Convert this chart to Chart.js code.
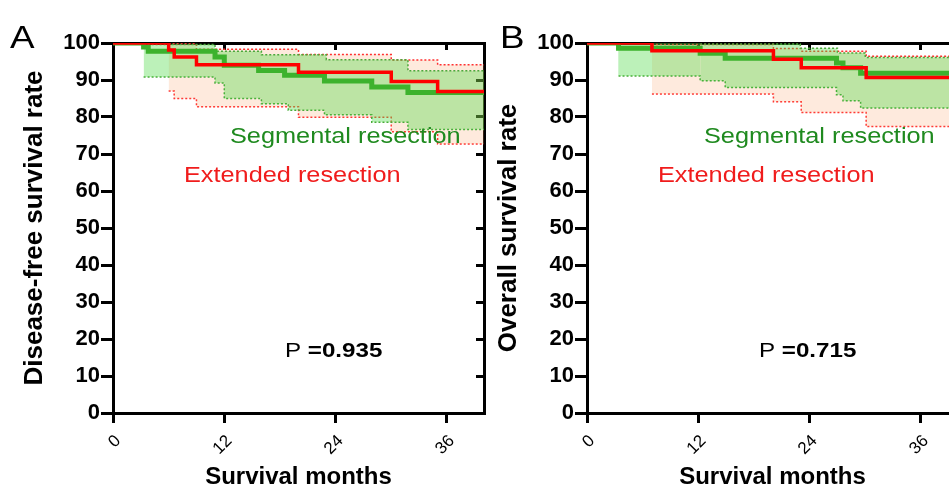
<!DOCTYPE html>
<html>
<head>
<meta charset="utf-8">
<script src="https://cdn.jsdelivr.net/npm/chart.js@4.4.1/dist/chart.umd.min.js"></script>
<style>
  body { margin: 0; width: 949px; height: 486px; overflow: hidden; background: #fff; position: relative; }
  canvas { position: absolute; top: 0; }
  #dfs { left: 0; }
  #os { left: 474px; }
</style>
</head>
<body>
<canvas id="dfs" width="490" height="486"></canvas>
<canvas id="os" width="490" height="486"></canvas>
<script>
// axis ticks
const monthTicks = [0, 12, 24, 36];
const rateMin = 0;
const rateMax = 100;
const monthMax = 40;

// A: disease-free survival
const dfsSegMonths = [0, 3.3, 3.8, 11.0, 12.0, 15.7, 18.5, 22.8, 27.9, 31.8, 40];
const dfsSegRate   = [100, 98.9, 97.8, 96.2, 94.0, 92.6, 91.3, 89.7, 88.1, 86.6, 86.6];
const dfsSegHiMonths = [0, 3.3, 11.0, 16.0, 23.0, 31.8, 40];
const dfsSegHi       = [100, 99.6, 97.8, 96.8, 95.5, 92.5, 92.5];
const dfsSegLoMonths = [0, 3.3, 11.0, 12.0, 16.0, 18.9, 22.8, 27.9, 31.8, 40];
const dfsSegLo       = [100, 90.8, 89.2, 85.0, 83.6, 81.8, 80.6, 78.6, 76.6, 76.6];

const dfsExtMonths = [0, 6.0, 6.6, 9.0, 20.0, 30.0, 35.0, 40];
const dfsExtRate   = [100, 98.1, 96.2, 94.1, 92.1, 89.6, 86.9, 86.9];
const dfsExtHiMonths = [0, 6.0, 9.0, 20.0, 30.0, 35.0, 40];
const dfsExtHi       = [100, 99.8, 98.3, 96.9, 95.4, 94.1, 94.1];
const dfsExtLoMonths = [0, 6.0, 6.6, 9.0, 20.0, 30.0, 35.0, 40];
const dfsExtLo       = [100, 87.0, 85.0, 82.8, 79.9, 76.0, 72.7, 72.7];

// B: overall survival
const osSegMonths = [0, 3.4, 12.2, 14.9, 26.9, 27.6, 29.5, 40];
const osSegRate   = [100, 98.6, 97.2, 95.9, 94.6, 93.3, 91.8, 91.8];
const osSegHiMonths = [0, 12.2, 23.0, 27.0, 30.0, 40];
const osSegHi       = [100, 99.7, 98.6, 97.3, 96.1, 96.1];
const osSegLoMonths = [0, 3.4, 12.2, 14.9, 26.9, 27.6, 29.5, 40];
const osSegLo       = [100, 91.1, 89.8, 88.0, 86.0, 84.4, 82.4, 82.4];

const osExtMonths = [0, 7.0, 20.1, 23.1, 30.1, 40];
const osExtRate   = [100, 97.9, 95.6, 93.3, 90.7, 90.7];
const osExtHiMonths = [0, 7.0, 20.1, 23.1, 30.1, 40];
const osExtHi       = [100, 99.6, 98.5, 97.8, 96.4, 96.4];
const osExtLoMonths = [0, 7.0, 20.1, 23.1, 30.1, 40];
const osExtLo       = [100, 86.2, 84.1, 81.2, 77.4, 77.4];

const groupNames = ["Segmental resection", "Extended resection"];

const FONT = "'Liberation Sans', Arial, sans-serif";

function pts(xs, ys) {
  return xs.map((x, i) => ({ x: x, y: ys[i] }));
}

// hide the first (vertical drop) piece of a CI bound
const hideFirst = {
  borderColor: c => c.p0DataIndex === 0 ? "rgba(0,0,0,0)" : undefined
};

const panelText = {
  id: "panelText",
  afterDraw(chart, args, opts) {
    const ctx = chart.ctx;
    const sx = 1.15;
    function put(text, x, y, font, color) {
      ctx.save();
      ctx.translate(x, y);
      ctx.scale(sx, 1);
      ctx.font = font;
      ctx.fillStyle = color;
      ctx.textBaseline = "alphabetic";
      ctx.fillText(text, 0, 0);
      const w = ctx.measureText(text).width * sx;
      ctx.restore();
      return w;
    }
    put(opts.letter, opts.letterX, 48, "32px " + FONT, "#000");
    put(groupNames[0], 230, 143, "22px " + FONT, "#1f8a1f");
    put(groupNames[1], 184, 182, "22px " + FONT, "#f01c1c");
    const w = put("P ", 285, 357, "21px " + FONT, "#000");
    put("=" + opts.p, 285 + w, 357, "bold 21px " + FONT, "#000");
  }
};

function makePanel(id, d, yTitle, letter, letterX, p) {
  const ctx = document.getElementById(id).getContext("2d");
  return new Chart(ctx, {
    type: "line",
    data: {
      datasets: [
        {
          label: groupNames[1],
          data: pts(d.extT, d.extV),
          borderColor: "#ff0000",
          borderWidth: 3.5,
          stepped: true,
          pointRadius: 0,
          fill: false,
          order: 0
        },
        {
          label: groupNames[0],
          data: pts(d.segT, d.segV),
          borderColor: "#3db22d",
          borderWidth: 5,
          stepped: true,
          pointRadius: 0,
          fill: false,
          order: 1
        },
        {
          data: pts(d.segHiT, d.segHi),
          borderColor: "#4aa83a",
          borderWidth: 1.5,
          borderDash: [2, 2],
          stepped: true,
          pointRadius: 0,
          fill: "+1",
          backgroundColor: "rgba(70,215,60,0.36)",
          segment: hideFirst,
          order: 2
        },
        {
          data: pts(d.segLoT, d.segLo),
          borderColor: "#4aa83a",
          borderWidth: 1.5,
          borderDash: [2, 2],
          stepped: true,
          pointRadius: 0,
          fill: false,
          segment: hideFirst,
          order: 2
        },
        {
          data: pts(d.extHiT, d.extHi),
          borderColor: "#ff3030",
          borderWidth: 1.5,
          borderDash: [2, 2],
          stepped: true,
          pointRadius: 0,
          fill: "+1",
          backgroundColor: "rgba(250,160,100,0.22)",
          segment: hideFirst,
          order: 3
        },
        {
          data: pts(d.extLoT, d.extLo),
          borderColor: "#ff3030",
          borderWidth: 1.5,
          borderDash: [2, 2],
          stepped: true,
          pointRadius: 0,
          fill: false,
          segment: hideFirst,
          order: 3
        }
      ]
    },
    options: {
      responsive: false,
      devicePixelRatio: 1,
      animation: false,
      layout: { padding: { top: 43, right: 6, bottom: 0, left: 0 } },
      plugins: {
        legend: { display: false },
        tooltip: { enabled: false },
        panelText: { letter: letter, letterX: letterX, p: p }
      },
      scales: {
        x: {
          type: "linear",
          position: "bottom",
          min: 0,
          max: monthMax,
          afterBuildTicks: s => { s.ticks = monthTicks.map(v => ({ value: v })); },
          afterFit: s => { s.height = 73; },
          border: { color: "#000", width: 3 },
          grid: { drawOnChartArea: false, color: "#000", lineWidth: 3, tickLength: 10 },
          ticks: {
            autoSkip: false,
            minRotation: 45,
            maxRotation: 45,
            labelOffset: 5,
            padding: 8,
            color: "#000",
            font: { family: FONT, size: 17 }
          },
          title: {
            display: true,
            text: "Survival months",
            color: "#000",
            font: { family: FONT, size: 24, weight: "bold", lineHeight: 1 },
            padding: { top: 0, bottom: -3 }
          }
        },
        x2: {
          type: "linear",
          position: "top",
          min: 0,
          max: monthMax,
          afterBuildTicks: s => { s.ticks = monthTicks.slice(1).map(v => ({ value: v })); },
          afterFit: s => { s.height = 0; },
          border: { color: "#000", width: 3 },
          grid: { drawOnChartArea: false, color: "#000", lineWidth: 3, tickLength: -7 },
          ticks: { display: false }
        },
        y: {
          type: "linear",
          position: "left",
          min: rateMin,
          max: rateMax,
          afterFit: s => { s.width = 113; },
          border: { color: "#000", width: 3 },
          grid: { drawOnChartArea: false, color: "#000", lineWidth: 3, tickLength: 12 },
          ticks: {
            stepSize: 10,
            autoSkip: false,
            padding: 1,
            color: "#000",
            font: { family: FONT, size: 22, weight: "bold" }
          },
          title: {
            display: true,
            text: yTitle,
            color: "#000",
            font: { family: FONT, size: 26, weight: "bold", lineHeight: 1 },
            padding: { top: 22, bottom: 0 }
          }
        },
        y2: {
          type: "linear",
          position: "right",
          min: rateMin,
          max: rateMax,
          afterFit: s => { s.width = 0; },
          border: { color: "#000", width: 3 },
          grid: { drawOnChartArea: false, color: "#000", lineWidth: 3, tickLength: -8 },
          ticks: { display: false, stepSize: 10 }
        }
      }
    },
    plugins: [panelText]
  });
}

makePanel("dfs", {
  segT: dfsSegMonths, segV: dfsSegRate,
  segHiT: dfsSegHiMonths, segHi: dfsSegHi,
  segLoT: dfsSegLoMonths, segLo: dfsSegLo,
  extT: dfsExtMonths, extV: dfsExtRate,
  extHiT: dfsExtHiMonths, extHi: dfsExtHi,
  extLoT: dfsExtLoMonths, extLo: dfsExtLo
}, "Disease-free survival rate", "A", 10, "0.935");

makePanel("os", {
  segT: osSegMonths, segV: osSegRate,
  segHiT: osSegHiMonths, segHi: osSegHi,
  segLoT: osSegLoMonths, segLo: osSegLo,
  extT: osExtMonths, extV: osExtRate,
  extHiT: osExtHiMonths, extHi: osExtHi,
  extLoT: osExtLoMonths, extLo: osExtLo
}, "Overall survival rate", "B", 26, "0.715");
</script>
</body>
</html>
